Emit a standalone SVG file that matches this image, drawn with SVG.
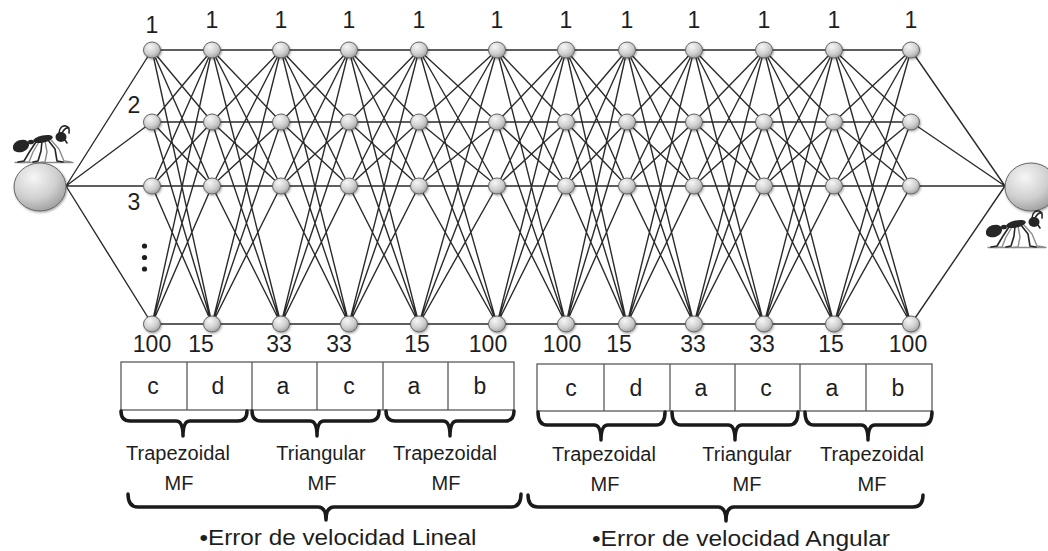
<svg xmlns="http://www.w3.org/2000/svg" xmlns:xlink="http://www.w3.org/1999/xlink" width="1048" height="551" viewBox="0 0 1048 551">
  <style>
    text { font-family: "Liberation Sans", Arial, sans-serif; fill: #1e1e1e; text-anchor: middle; }
    .num { font-size: 23px; }
    .cell { font-size: 23px; }
    .mf { font-size: 20px; }
    .title { font-size: 22px; }
    .wire { fill: none; stroke: #2b2b2b; stroke-width: 1.4; }
    .node { fill: url(#nodeFill); stroke: #666666; stroke-width: 1; filter: url(#soft); }
    .box { fill: #ffffff; stroke: #5a5a5a; stroke-width: 1.3; }
    .brace { fill: none; stroke: #1a1a1a; stroke-width: 3.5; stroke-linecap: round; stroke-linejoin: round; }
    .ant { fill: #262626; }
    .leg { fill: none; stroke: #262626; stroke-width: 1.6; stroke-linecap: round; stroke-linejoin: round; }
    .leg2 { fill: none; stroke: #8c8c8c; stroke-width: 1.4; stroke-linecap: round; stroke-linejoin: round; }
  </style>
  <defs>
    <radialGradient id="nodeFill" cx="0.38" cy="0.3" r="0.75">
      <stop offset="0" stop-color="#f6f6f6"/>
      <stop offset="0.6" stop-color="#cfcfcf"/>
      <stop offset="1" stop-color="#9c9c9c"/>
    </radialGradient>
    <filter id="soft" x="-40%" y="-40%" width="180%" height="180%">
      <feDropShadow dx="0.8" dy="1.2" stdDeviation="1" flood-color="#000" flood-opacity="0.35"/>
    </filter>
    <filter id="antBlur" x="-10%" y="-10%" width="120%" height="120%">
      <feGaussianBlur stdDeviation="0.45"/>
    </filter>
    <!-- ant silhouette, facing right -->
    <g id="antShape" filter="url(#antBlur)">
      <path class="leg2" d="M4 35.5 H62"/>
      <path class="leg2" d="M28 15 L22 25 L18 35 L11 35.5 M34 14 L36 25 L34 35 L29 35.5 M40 13 L48 22 L53 34 L60 35"/>
      <path class="leg" d="M25 15 L19 24 L13 34 L7 35 M31 14 L30 24 L27 34 L22 35 M37 13 L44 22 L46 34 L52 35"/>
      <ellipse class="ant" cx="10" cy="19" rx="8.5" ry="6" transform="rotate(-20 10 19)"/>
      <ellipse class="ant" cx="20" cy="15" rx="3" ry="2.3"/>
      <ellipse class="ant" cx="32" cy="12" rx="10" ry="3.6" transform="rotate(-12 32 12)"/>
      <ellipse class="ant" cx="50" cy="10" rx="5.5" ry="5"/>
      <path class="leg" d="M48 6 Q49 -2 55 -1 Q59 0 58 6 M51 6 Q54 0 58 1"/>
      <path class="leg" d="M54 13 L56 16"/>
    </g>
  </defs>

  <!-- connectors -->
  <g id="connectors" class="wire">
    <path d="M66 186L152 50M66 186L152 122M66 186L152 186M66 186L152 324"/>
    <path d="M152 50L212 50M152 50L212 122M152 50L212 186M152 50L212 324M152 122L212 50M152 122L212 122M152 122L212 186M152 122L212 324M152 186L212 50M152 186L212 122M152 186L212 186M152 186L212 324M152 324L212 50M152 324L212 122M152 324L212 186M152 324L212 324"/>
    <path d="M212 50L281 50M212 50L281 122M212 50L281 186M212 50L281 324M212 122L281 50M212 122L281 122M212 122L281 186M212 122L281 324M212 186L281 50M212 186L281 122M212 186L281 186M212 186L281 324M212 324L281 50M212 324L281 122M212 324L281 186M212 324L281 324"/>
    <path d="M281 50L349 50M281 50L349 122M281 50L349 186M281 50L349 324M281 122L349 50M281 122L349 122M281 122L349 186M281 122L349 324M281 186L349 50M281 186L349 122M281 186L349 186M281 186L349 324M281 324L349 50M281 324L349 122M281 324L349 186M281 324L349 324"/>
    <path d="M349 50L419 50M349 50L419 122M349 50L419 186M349 50L419 324M349 122L419 50M349 122L419 122M349 122L419 186M349 122L419 324M349 186L419 50M349 186L419 122M349 186L419 186M349 186L419 324M349 324L419 50M349 324L419 122M349 324L419 186M349 324L419 324"/>
    <path d="M419 50L497 50M419 50L497 122M419 50L497 186M419 50L497 324M419 122L497 50M419 122L497 122M419 122L497 186M419 122L497 324M419 186L497 50M419 186L497 122M419 186L497 186M419 186L497 324M419 324L497 50M419 324L497 122M419 324L497 186M419 324L497 324"/>
    <path d="M497 50L566 50M497 50L566 122M497 50L566 186M497 50L566 324M497 122L566 50M497 122L566 122M497 122L566 186M497 122L566 324M497 186L566 50M497 186L566 122M497 186L566 186M497 186L566 324M497 324L566 50M497 324L566 122M497 324L566 186M497 324L566 324"/>
    <path d="M566 50L627 50M566 50L627 122M566 50L627 186M566 50L627 324M566 122L627 50M566 122L627 122M566 122L627 186M566 122L627 324M566 186L627 50M566 186L627 122M566 186L627 186M566 186L627 324M566 324L627 50M566 324L627 122M566 324L627 186M566 324L627 324"/>
    <path d="M627 50L694 50M627 50L694 122M627 50L694 186M627 50L694 324M627 122L694 50M627 122L694 122M627 122L694 186M627 122L694 324M627 186L694 50M627 186L694 122M627 186L694 186M627 186L694 324M627 324L694 50M627 324L694 122M627 324L694 186M627 324L694 324"/>
    <path d="M694 50L764 50M694 50L764 122M694 50L764 186M694 50L764 324M694 122L764 50M694 122L764 122M694 122L764 186M694 122L764 324M694 186L764 50M694 186L764 122M694 186L764 186M694 186L764 324M694 324L764 50M694 324L764 122M694 324L764 186M694 324L764 324"/>
    <path d="M764 50L834 50M764 50L834 122M764 50L834 186M764 50L834 324M764 122L834 50M764 122L834 122M764 122L834 186M764 122L834 324M764 186L834 50M764 186L834 122M764 186L834 186M764 186L834 324M764 324L834 50M764 324L834 122M764 324L834 186M764 324L834 324"/>
    <path d="M834 50L911 50M834 50L911 122M834 50L911 186M834 50L911 324M834 122L911 50M834 122L911 122M834 122L911 186M834 122L911 324M834 186L911 50M834 186L911 122M834 186L911 186M834 186L911 324M834 324L911 50M834 324L911 122M834 324L911 186M834 324L911 324"/>
    <path d="M911 50L1005 186M911 122L1005 186M911 186L1005 186M911 324L1005 186"/>
  </g>

  <!-- input and output nodes with their ants -->
  <g id="start">
    <use xlink:href="#antShape" transform="translate(11 127)"/>
    <ellipse class="node" cx="40" cy="187" rx="26" ry="24"/>
  </g>
  <g id="end">
    <ellipse class="node" cx="1031" cy="187" rx="26" ry="24"/>
    <use xlink:href="#antShape" transform="translate(984 212)"/>
  </g>

  <!-- hidden layer columns -->
  <g id="col1"><ellipse class="node" cx="152" cy="50" rx="8.5" ry="8"/><ellipse class="node" cx="152" cy="122" rx="8.5" ry="8"/><ellipse class="node" cx="152" cy="186" rx="8.5" ry="8"/><ellipse class="node" cx="152" cy="324" rx="8.5" ry="8"/></g>
  <g id="col2"><ellipse class="node" cx="212" cy="50" rx="8.5" ry="8"/><ellipse class="node" cx="212" cy="122" rx="8.5" ry="8"/><ellipse class="node" cx="212" cy="186" rx="8.5" ry="8"/><ellipse class="node" cx="212" cy="324" rx="8.5" ry="8"/></g>
  <g id="col3"><ellipse class="node" cx="281" cy="50" rx="8.5" ry="8"/><ellipse class="node" cx="281" cy="122" rx="8.5" ry="8"/><ellipse class="node" cx="281" cy="186" rx="8.5" ry="8"/><ellipse class="node" cx="281" cy="324" rx="8.5" ry="8"/></g>
  <g id="col4"><ellipse class="node" cx="349" cy="50" rx="8.5" ry="8"/><ellipse class="node" cx="349" cy="122" rx="8.5" ry="8"/><ellipse class="node" cx="349" cy="186" rx="8.5" ry="8"/><ellipse class="node" cx="349" cy="324" rx="8.5" ry="8"/></g>
  <g id="col5"><ellipse class="node" cx="419" cy="50" rx="8.5" ry="8"/><ellipse class="node" cx="419" cy="122" rx="8.5" ry="8"/><ellipse class="node" cx="419" cy="186" rx="8.5" ry="8"/><ellipse class="node" cx="419" cy="324" rx="8.5" ry="8"/></g>
  <g id="col6"><ellipse class="node" cx="497" cy="50" rx="8.5" ry="8"/><ellipse class="node" cx="497" cy="122" rx="8.5" ry="8"/><ellipse class="node" cx="497" cy="186" rx="8.5" ry="8"/><ellipse class="node" cx="497" cy="324" rx="8.5" ry="8"/></g>
  <g id="col7"><ellipse class="node" cx="566" cy="50" rx="8.5" ry="8"/><ellipse class="node" cx="566" cy="122" rx="8.5" ry="8"/><ellipse class="node" cx="566" cy="186" rx="8.5" ry="8"/><ellipse class="node" cx="566" cy="324" rx="8.5" ry="8"/></g>
  <g id="col8"><ellipse class="node" cx="627" cy="50" rx="8.5" ry="8"/><ellipse class="node" cx="627" cy="122" rx="8.5" ry="8"/><ellipse class="node" cx="627" cy="186" rx="8.5" ry="8"/><ellipse class="node" cx="627" cy="324" rx="8.5" ry="8"/></g>
  <g id="col9"><ellipse class="node" cx="694" cy="50" rx="8.5" ry="8"/><ellipse class="node" cx="694" cy="122" rx="8.5" ry="8"/><ellipse class="node" cx="694" cy="186" rx="8.5" ry="8"/><ellipse class="node" cx="694" cy="324" rx="8.5" ry="8"/></g>
  <g id="col10"><ellipse class="node" cx="764" cy="50" rx="8.5" ry="8"/><ellipse class="node" cx="764" cy="122" rx="8.5" ry="8"/><ellipse class="node" cx="764" cy="186" rx="8.5" ry="8"/><ellipse class="node" cx="764" cy="324" rx="8.5" ry="8"/></g>
  <g id="col11"><ellipse class="node" cx="834" cy="50" rx="8.5" ry="8"/><ellipse class="node" cx="834" cy="122" rx="8.5" ry="8"/><ellipse class="node" cx="834" cy="186" rx="8.5" ry="8"/><ellipse class="node" cx="834" cy="324" rx="8.5" ry="8"/></g>
  <g id="col12"><ellipse class="node" cx="911" cy="50" rx="8.5" ry="8"/><ellipse class="node" cx="911" cy="122" rx="8.5" ry="8"/><ellipse class="node" cx="911" cy="186" rx="8.5" ry="8"/><ellipse class="node" cx="911" cy="324" rx="8.5" ry="8"/></g>

  <!-- row indices -->
  <g id="row-labels">
    <text class="num" x="152" y="33">1</text>
    <text class="num" x="212" y="28">1</text>
    <text class="num" x="281" y="28">1</text>
    <text class="num" x="349" y="28">1</text>
    <text class="num" x="419" y="28">1</text>
    <text class="num" x="497" y="28">1</text>
    <text class="num" x="566" y="28">1</text>
    <text class="num" x="627" y="28">1</text>
    <text class="num" x="694" y="28">1</text>
    <text class="num" x="764" y="28">1</text>
    <text class="num" x="834" y="28">1</text>
    <text class="num" x="911" y="28">1</text>
    <text class="num" x="134" y="113">2</text>
    <text class="num" x="134" y="210">3</text>
    <circle cx="144.5" cy="246" r="2.6" fill="#1e1e1e"/>
    <circle cx="144.5" cy="257.5" r="2.6" fill="#1e1e1e"/>
    <circle cx="144.5" cy="269" r="2.6" fill="#1e1e1e"/>
  </g>

  <!-- layer sizes -->
  <g id="layer-sizes">
    <text class="num" x="152" y="352">100</text>
    <text class="num" x="201" y="352">15</text>
    <text class="num" x="279" y="352">33</text>
    <text class="num" x="339" y="352">33</text>
    <text class="num" x="417" y="352">15</text>
    <text class="num" x="488" y="352">100</text>
    <text class="num" x="562" y="352">100</text>
    <text class="num" x="619" y="352">15</text>
    <text class="num" x="693" y="352">33</text>
    <text class="num" x="762" y="352">33</text>
    <text class="num" x="831" y="352">15</text>
    <text class="num" x="908" y="352">100</text>
  </g>

  <!-- parameter cells, linear speed error -->
  <g id="cells-linear">
    <rect class="box" x="121" y="362" width="393" height="48"/>
    <path class="box" d="M187 362V410M252 362V410M317 362V410M383 362V410M448 362V410"/>
    <text class="cell" x="153" y="394">c</text>
    <text class="cell" x="218" y="394">d</text>
    <text class="cell" x="283" y="394">a</text>
    <text class="cell" x="349" y="394">c</text>
    <text class="cell" x="414" y="394">a</text>
    <text class="cell" x="480" y="394">b</text>
  </g>

  <!-- parameter cells, angular speed error -->
  <g id="cells-angular">
    <rect class="box" x="537" y="364" width="395" height="47"/>
    <path class="box" d="M604 364V411M670 364V411M735 364V411M800 364V411M866 364V411"/>
    <text class="cell" x="571" y="396">c</text>
    <text class="cell" x="636" y="396">d</text>
    <text class="cell" x="701" y="396">a</text>
    <text class="cell" x="766" y="396">c</text>
    <text class="cell" x="832" y="396">a</text>
    <text class="cell" x="898" y="396">b</text>
  </g>

  <!-- membership function braces -->
  <g id="mf-linear">
    <path class="brace" d="M121 411Q121 421 130 421H176Q183 421 183 436Q183 421 190 421H238Q247 421 247 411"/>
    <path class="brace" d="M252 411Q252 421 261 421H310Q317 421 317 436Q317 421 324 421H370Q379 421 379 411"/>
    <path class="brace" d="M386 411Q386 421 395 421H443Q450 421 450 436Q450 421 457 421H505Q514 421 514 411"/>
    <text class="mf" x="178" y="460">Trapezoidal</text>
    <text class="mf" x="179" y="490">MF</text>
    <text class="mf" x="321" y="460">Triangular</text>
    <text class="mf" x="322" y="490">MF</text>
    <text class="mf" x="445" y="460">Trapezoidal</text>
    <text class="mf" x="446" y="490">MF</text>
  </g>
  <g id="mf-angular">
    <path class="brace" d="M538 412Q538 425 547 425H594Q601 425 601 440Q601 425 608 425H656Q665 425 665 412"/>
    <path class="brace" d="M672 412Q672 425 681 425H728Q735 425 735 440Q735 425 742 425H789Q798 425 798 412"/>
    <path class="brace" d="M805 412Q805 425 814 425H861Q868 425 868 440Q868 425 875 425H923Q932 425 932 412"/>
    <text class="mf" x="604" y="461">Trapezoidal</text>
    <text class="mf" x="605" y="491">MF</text>
    <text class="mf" x="747" y="461">Triangular</text>
    <text class="mf" x="747" y="491">MF</text>
    <text class="mf" x="872" y="461">Trapezoidal</text>
    <text class="mf" x="872" y="491">MF</text>
  </g>

  <!-- input groups -->
  <g id="group-linear">
    <path class="brace" d="M128 494Q128 507 138 507H318Q326 507 326 520Q326 507 334 507H511Q521 507 521 494"/>
    <text class="title" x="338" y="545" textLength="277" lengthAdjust="spacingAndGlyphs">•Error de velocidad Lineal</text>
  </g>
  <g id="group-angular">
    <path class="brace" d="M528 495Q528 507 538 507H718Q726 507 726 521Q726 507 734 507H913Q923 507 923 495"/>
    <text class="title" x="741" y="546" textLength="298" lengthAdjust="spacingAndGlyphs">•Error de velocidad Angular</text>
  </g>
</svg>
